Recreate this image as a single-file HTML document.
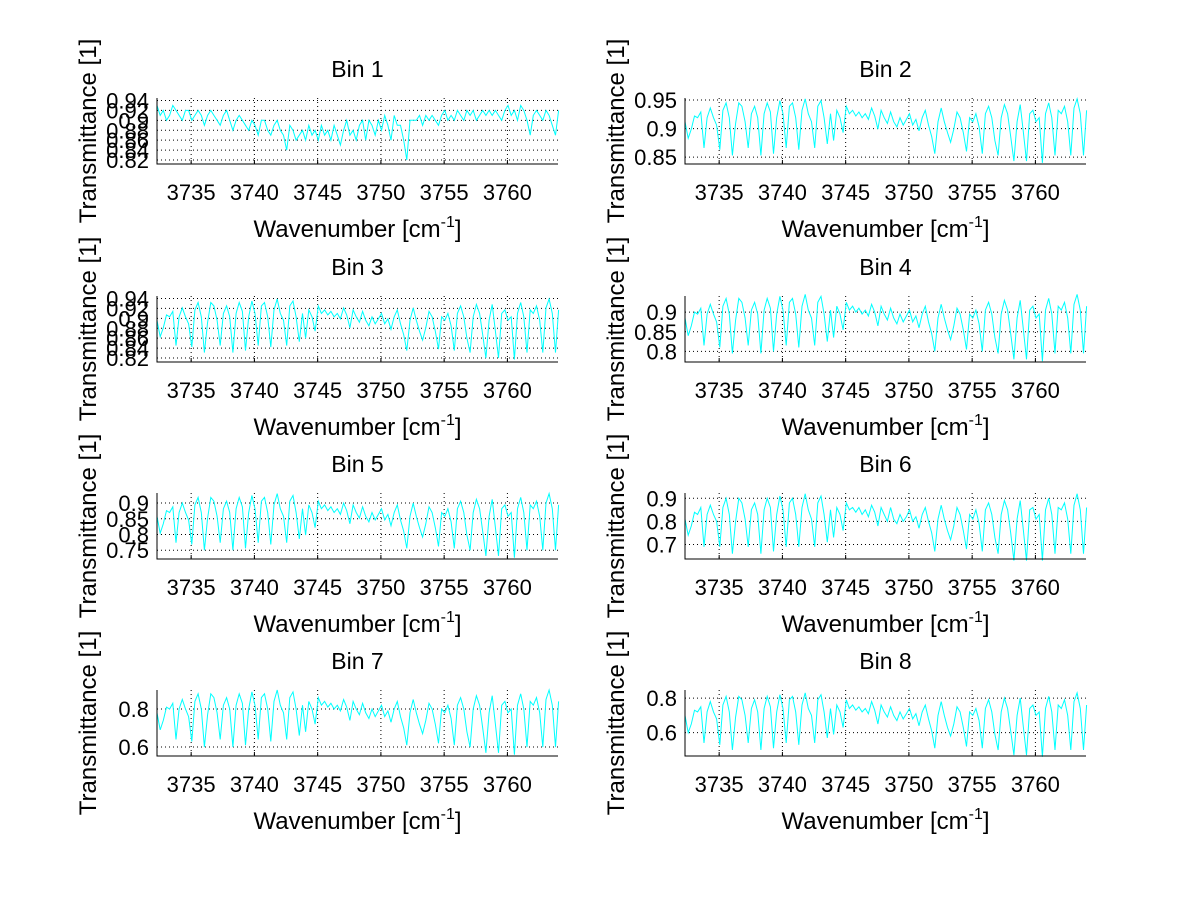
<!DOCTYPE html>
<html><head><meta charset="utf-8"><style>
html,body{margin:0;padding:0;background:#fff;}
svg{display:block;font-family:"Liberation Sans",Arial,sans-serif;}
</style></head>
<body>
<svg id="fig" width="1200" height="901" viewBox="0 0 1200 901" xmlns="http://www.w3.org/2000/svg">
<rect width="1200" height="901" fill="#fff"/>
</svg>
<script>
const xStart = 3732.3;
const xStep = 0.25;
const xTicks = [3735, 3740, 3745, 3750, 3755, 3760];
const xDomain = [3732.3, 3764.0];
const binTitles = ["Bin 1","Bin 2","Bin 3","Bin 4","Bin 5","Bin 6","Bin 7","Bin 8"];
const yDomains = [[0.812,0.945],[0.838,0.9535],[0.812,0.945],[0.773,0.941],[0.722,0.932],[0.637,0.923],[0.553,0.90],[0.465,0.847]];
const yTicks1 = [0.82,0.84,0.86,0.88,0.9,0.92,0.94];
const yTicks2 = [0.85,0.9,0.95];
const yTicks3 = [0.82,0.84,0.86,0.88,0.9,0.92,0.94];
const yTicks4 = [0.8,0.85,0.9];
const yTicks5 = [0.75,0.8,0.85,0.9];
const yTicks6 = [0.7,0.8,0.9];
const yTicks7 = [0.6,0.8];
const yTicks8 = [0.6,0.8];
const bin1 = [.93,.91,.92,.90,.91,.93,.92,.91,.90,.92,.92,.90,.91,.92,.91,.89,.91,.92,.91,.90,.89,.91,.92,.90,.88,.90,.91,.90,.89,.88,.90,.89,.87,.90,.90,.88,.87,.89,.90,.88,.87,.84,.89,.88,.86,.87,.88,.86,.89,.87,.88,.86,.89,.87,.88,.86,.89,.87,.85,.88,.90,.87,.88,.86,.89,.90,.86,.90,.89,.87,.90,.88,.91,.89,.86,.91,.89,.89,.86,.82,.90,.90,.90,.91,.89,.91,.90,.91,.90,.89,.91,.92,.90,.91,.90,.92,.91,.90,.92,.91,.92,.90,.91,.92,.91,.92,.91,.92,.91,.90,.92,.93,.91,.92,.90,.93,.92,.90,.87,.91,.92,.91,.90,.92,.91,.89,.87,.92];
const bin2 = [.912,.883,.899,.922,.919,.929,.866,.919,.936,.919,.906,.863,.932,.945,.919,.853,.909,.945,.939,.912,.866,.926,.939,.919,.853,.926,.945,.929,.856,.919,.949,.926,.866,.939,.945,.919,.863,.932,.952,.926,.912,.866,.939,.949,.919,.873,.926,.879,.932,.919,.893,.939,.926,.932,.922,.929,.919,.926,.916,.936,.922,.899,.932,.919,.909,.929,.912,.903,.919,.906,.916,.926,.906,.916,.896,.919,.932,.906,.886,.856,.912,.936,.912,.893,.876,.899,.929,.919,.893,.860,.919,.912,.926,.903,.856,.926,.939,.919,.879,.853,.919,.942,.926,.886,.843,.912,.942,.893,.843,.926,.932,.912,.919,.840,.926,.945,.919,.853,.932,.926,.939,.912,.853,.936,.952,.926,.853,.932];
const bin3 = [.896,.863,.881,.907,.903,.914,.845,.903,.921,.903,.889,.842,.917,.932,.903,.831,.892,.932,.925,.896,.845,.910,.925,.903,.831,.910,.932,.914,.835,.903,.935,.910,.845,.925,.932,.903,.842,.917,.939,.910,.896,.845,.925,.935,.903,.853,.910,.860,.917,.903,.874,.925,.910,.917,.907,.914,.903,.910,.899,.921,.907,.881,.917,.903,.892,.914,.896,.885,.903,.889,.899,.910,.889,.899,.878,.903,.917,.889,.867,.835,.896,.921,.896,.874,.856,.881,.914,.903,.874,.838,.903,.896,.910,.885,.835,.910,.925,.903,.860,.831,.903,.928,.910,.867,.820,.896,.928,.874,.820,.910,.917,.896,.903,.817,.910,.932,.903,.831,.917,.910,.925,.896,.831,.921,.939,.910,.831,.917];
const bin4 = [.885,.84,.865,.90,.895,.91,.815,.895,.92,.895,.875,.81,.915,.935,.895,.795,.88,.935,.925,.885,.815,.905,.925,.895,.795,.905,.935,.91,.80,.895,.94,.905,.815,.925,.935,.895,.81,.915,.945,.905,.885,.815,.925,.94,.895,.825,.905,.835,.915,.895,.855,.925,.905,.915,.90,.91,.895,.905,.89,.92,.90,.865,.915,.895,.88,.91,.885,.87,.895,.875,.89,.905,.875,.89,.86,.895,.915,.875,.845,.80,.885,.92,.885,.855,.83,.865,.91,.895,.855,.805,.895,.885,.905,.87,.80,.905,.925,.895,.835,.795,.895,.93,.905,.845,.78,.885,.93,.855,.78,.905,.915,.885,.895,.775,.905,.935,.895,.795,.915,.905,.925,.885,.795,.92,.945,.905,.795,.915];
const bin5 = [.858,.804,.834,.876,.87,.888,.774,.87,.90,.87,.846,.768,.894,.918,.87,.75,.852,.918,.906,.858,.774,.882,.906,.87,.75,.882,.918,.888,.756,.87,.924,.882,.774,.906,.918,.87,.768,.894,.93,.882,.858,.774,.906,.924,.87,.786,.882,.798,.894,.87,.822,.906,.882,.894,.876,.888,.87,.882,.864,.90,.876,.834,.894,.87,.852,.888,.858,.84,.87,.846,.864,.882,.846,.864,.828,.87,.894,.846,.81,.756,.858,.90,.858,.822,.792,.834,.888,.87,.822,.762,.87,.858,.882,.84,.756,.882,.906,.87,.798,.75,.87,.912,.882,.81,.732,.858,.912,.822,.732,.882,.894,.858,.87,.726,.882,.918,.87,.75,.894,.882,.906,.858,.75,.90,.93,.882,.75,.894];
const bin6 = [.81,.74,.78,.84,.83,.86,.69,.83,.87,.83,.80,.69,.86,.90,.83,.66,.80,.90,.88,.81,.69,.85,.88,.83,.66,.85,.90,.86,.67,.83,.91,.85,.69,.88,.90,.83,.69,.86,.92,.85,.81,.69,.88,.91,.83,.71,.85,.73,.86,.83,.76,.88,.85,.86,.84,.86,.83,.85,.82,.87,.84,.78,.86,.83,.80,.86,.81,.79,.83,.80,.82,.85,.80,.82,.77,.83,.86,.80,.75,.67,.81,.87,.81,.76,.72,.78,.86,.83,.76,.68,.83,.81,.85,.79,.67,.85,.88,.83,.73,.66,.83,.89,.85,.75,.63,.81,.89,.76,.63,.85,.86,.81,.83,.63,.85,.90,.83,.66,.86,.85,.88,.81,.66,.87,.92,.85,.66,.86];
const bin7 = [.78,.69,.74,.81,.80,.83,.64,.80,.85,.80,.76,.63,.84,.88,.80,.60,.77,.88,.86,.78,.64,.82,.86,.80,.60,.82,.88,.83,.61,.80,.89,.82,.64,.86,.88,.80,.63,.84,.90,.82,.78,.64,.86,.89,.80,.66,.82,.68,.84,.80,.72,.86,.82,.84,.81,.83,.80,.82,.79,.85,.81,.74,.84,.80,.77,.83,.78,.75,.80,.76,.79,.82,.76,.79,.73,.80,.84,.76,.70,.61,.78,.85,.78,.72,.67,.74,.83,.80,.72,.62,.80,.78,.82,.75,.61,.82,.86,.80,.68,.60,.80,.87,.82,.70,.57,.78,.87,.72,.57,.82,.84,.78,.80,.56,.82,.88,.80,.60,.84,.82,.86,.78,.60,.85,.90,.82,.60,.84];
const bin8 = [.70,.60,.65,.73,.72,.75,.54,.72,.78,.72,.68,.53,.76,.81,.72,.50,.69,.81,.79,.70,.54,.74,.79,.72,.50,.74,.81,.75,.51,.72,.82,.74,.54,.79,.81,.72,.53,.76,.83,.74,.70,.54,.79,.82,.72,.57,.74,.59,.76,.72,.63,.79,.74,.76,.73,.75,.72,.74,.71,.78,.73,.65,.76,.72,.69,.75,.70,.67,.72,.68,.71,.74,.68,.71,.64,.72,.76,.68,.61,.51,.70,.78,.70,.63,.58,.65,.75,.72,.63,.52,.72,.70,.74,.67,.51,.74,.79,.72,.59,.50,.72,.80,.74,.61,.47,.70,.80,.63,.47,.74,.76,.70,.72,.46,.74,.81,.72,.50,.76,.74,.79,.70,.50,.78,.83,.74,.50,.76];

const seriesList = [bin1,bin2,bin3,bin4,bin5,bin6,bin7,bin8];
const yTickList = [yTicks1,yTicks2,yTicks3,yTicks4,yTicks5,yTicks6,yTicks7,yTicks8];

const NS = "http://www.w3.org/2000/svg";
const svg = document.getElementById("fig");
function mk(tag, attrs, parent){
  const e = document.createElementNS(NS, tag);
  for (const k in attrs) e.setAttribute(k, attrs[k]);
  (parent||svg).appendChild(e);
  return e;
}
const colX = [157, 685];
const rowY = [98, 296, 493, 690];
const W = 401, H = 66;

for (let p = 0; p < 8; p++) {
  const left = colX[p % 2], top = rowY[Math.floor(p / 2)];
  const yd = yDomains[p];
  const sx = v => left + (v - xDomain[0]) / (xDomain[1] - xDomain[0]) * W;
  const sy = v => top + H - (v - yd[0]) / (yd[1] - yd[0]) * H;
  const g = mk("g", {});
  
  

  xTicks.forEach(t => {
    const l = mk("line", {x1: sx(t), x2: sx(t), y1: top, y2: top + H, stroke: "#000", "stroke-width": 1, "stroke-dasharray": "1,3"}, g);
    
    
    const tk = mk("line", {x1: sx(t), x2: sx(t), y1: top + H, y2: top + H - 4, stroke: "#000", "stroke-width": 1}, g);
    
    
    const tl = mk("text", {x: sx(t), y: top + H + 36, "font-size": 22, "text-anchor": "middle", fill: "#000"}, g);
    tl.textContent = t;
    
    
  });
  yTickList[p].forEach(t => {
    const y = sy(t);
    const l = mk("line", {x1: left, x2: left + W, y1: y, y2: y, stroke: "#000", "stroke-width": 1, "stroke-dasharray": "1,3"}, g);
    
    
    const tl = mk("text", {x: left - 8, y: y + 8, "font-size": 22, "text-anchor": "end", fill: "#000"}, g);
    tl.textContent = t;
    
    
  });

  const pts = seriesList[p].map((v, i) => sx(xStart + i * xStep).toFixed(1) + "," + sy(v).toFixed(1)).join(" ");
  const pl = mk("polyline", {points: pts, fill: "none", stroke: "#00ffff", "stroke-width": 1}, g);
  
  

  const ax = mk("path", {d: `M${left},${top} V${top + H} H${left + W}`, fill: "none", stroke: "#000", "stroke-width": 1}, g);
  
  

  const tt = mk("text", {x: left + W / 2, y: top - 21, "font-size": 23, "text-anchor": "middle", fill: "#000"}, g);
  tt.textContent = binTitles[p];
  
  

  const xl = mk("text", {x: left + W / 2, y: top + H + 73, "font-size": 24, "text-anchor": "middle", fill: "#000"}, g);
  
  
  xl.appendChild(document.createTextNode("Wavenumber [cm"));
  const sup = mk("tspan", {"font-size": 16, dy: -10}, xl);
  sup.textContent = "-1";
  const cl = mk("tspan", {dy: 10}, xl);
  cl.textContent = "]";

  const cx = left - 61, cy = top + H / 2;
  const yl = mk("text", {x: cx, y: cy, "font-size": 24, "text-anchor": "middle", fill: "#000", transform: `rotate(-90 ${cx} ${cy})`}, g);
  yl.textContent = "Transmittance [1]";
  
  
}
</script>
</body></html>
